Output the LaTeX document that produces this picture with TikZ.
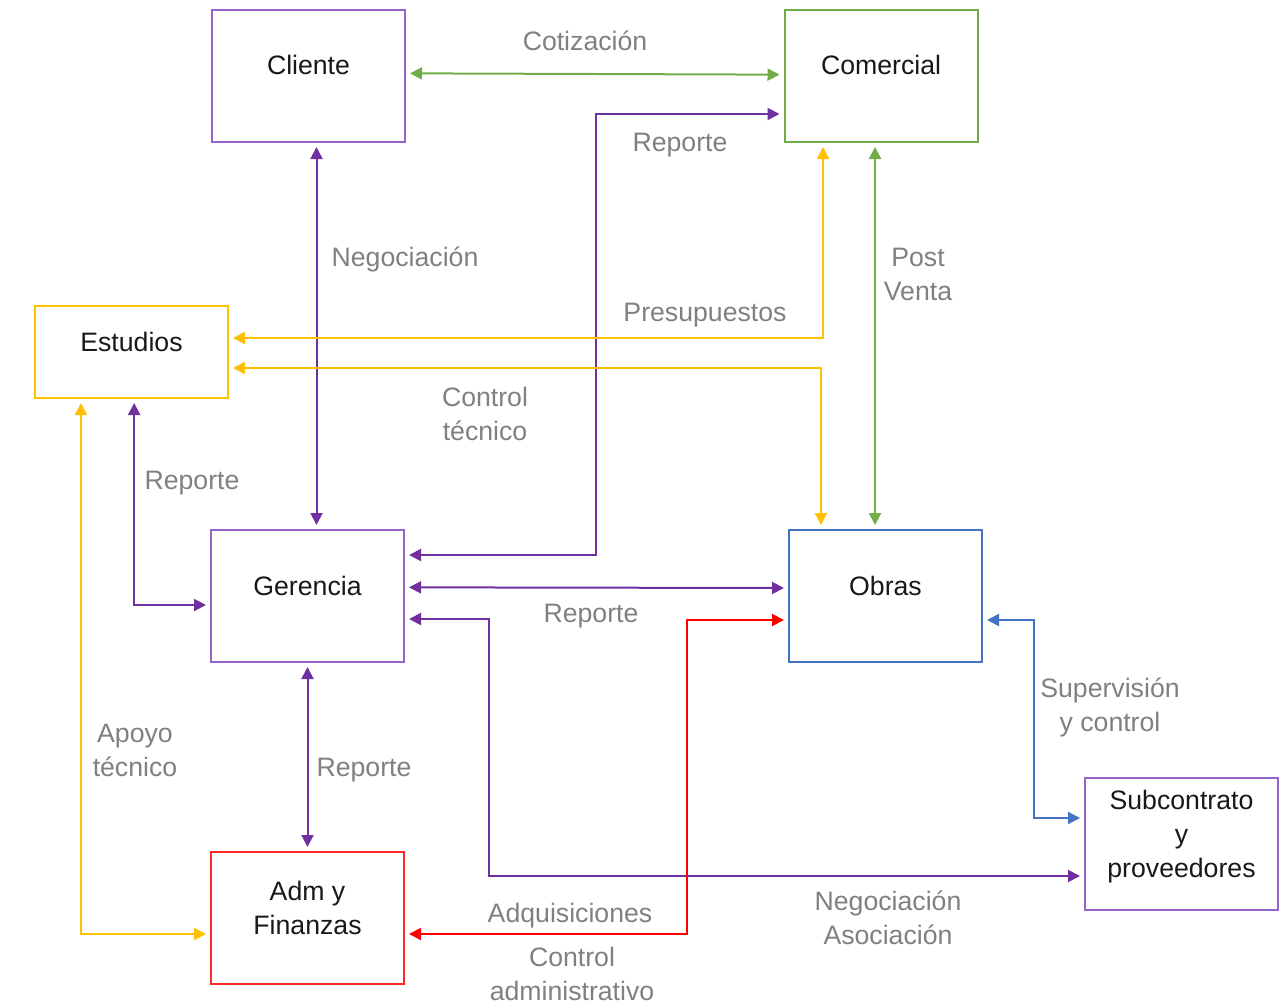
\documentclass[tikz,border=0pt]{standalone}
\usepackage{fontspec}
\setmainfont{Liberation Sans}
\usepackage{tikz}
\usetikzlibrary{arrows.meta, positioning, calc}
\definecolor{flowpurple}{HTML}{7030A0}
\definecolor{boxpurple}{HTML}{9563C9}
\definecolor{flowgreen}{HTML}{70AD47}
\definecolor{flowyellow}{HTML}{FFC000}
\definecolor{flowblue}{HTML}{4472C4}
\definecolor{flowred}{HTML}{FF0000}
\definecolor{labelgray}{HTML}{808080}
\tikzset{
	box/.style={draw, line width=1.5pt, fill=white, minimum width=144.75pt, minimum height=99pt,
		align=center, text depth=16pt, font=\fontsize{20}{25.5}\selectfont, text=black!90},
	arr/.style={line width=1.5pt, {Triangle[length=9pt,width=9pt]}-{Triangle[length=9pt,width=9pt]},
		shorten <=3pt, shorten >=3pt},
	lbl/.style={text=labelgray, align=center, font=\fontsize{20}{25.5}\selectfont}
}

\begin{document}
\begin{tikzpicture}[x=0.75pt, y=-0.75pt]
	\useasboundingbox (0,0) rectangle (1280,1003);
	\node[box, draw=boxpurple] (cliente) at (308.5,76) {Cliente};
	\node[box, draw=flowgreen] (comercial) at (881,76) {Comercial};
	\node[box, draw=flowyellow, minimum height=69pt] (estudios) at (131.5,352) {Estudios};
	\node[box, draw=boxpurple] (gerencia) at (307.5,596) {Gerencia};
	\node[box, draw=flowblue] (obras) at (885.5,596) {Obras};
	\node[box, draw=flowred!85] (adm) at (307.5,918) {Adm y\\Finanzas};
	\node[box, draw=boxpurple] (sub) at (1181.5,844) {Subcontrato\\y\\proveedores};

	\draw[arr, flowgreen] ([yshift=2pt]cliente.east) -- ([yshift=1pt]comercial.west);
	\draw[arr, flowpurple] ([xshift=6pt]cliente.south) coordinate (neg) -- (neg |- gerencia.north);
	\draw[arr, flowpurple] ([yshift=30.75pt]gerencia.east) -| (596,114) -- (596,114 -| comercial.west);
	\draw[arr, flowyellow] ([xshift=-43.5pt]comercial.south) |- ([yshift=10.5pt]estudios.east);
	\draw[arr, flowyellow] ([yshift=-12pt]estudios.east) -| ([xshift=-48.4pt]obras.north);
	\draw[arr, flowgreen] ([xshift=-4.5pt]comercial.south) coordinate (pv) -- (pv |- obras.north);
	\draw[arr, flowpurple] ([xshift=2pt]estudios.south) |- ([yshift=-6.75pt]gerencia.west);
	\draw[arr, flowpurple] ([yshift=6.5pt]gerencia.east) -- ([yshift=6pt]obras.west);
	\draw[arr, flowpurple] ([yshift=-17.25pt]gerencia.east) -| (489,876) -- (489,876 -| sub.west);
	\draw[arr, flowred] ([yshift=-12pt]adm.east) -| (687,620) -- (687,620 -| obras.west);
	\draw[arr, flowblue] ([yshift=-18pt]obras.east) -| (1034,818) -- (1034,818 -| sub.west);
	\draw[arr, flowpurple] (gerencia.south) -- (adm.north);
	\draw[arr, flowyellow] ([xshift=-37.9pt]estudios.south) |- ([yshift=-12pt]adm.west);

	\node[lbl] (lcot) at (585,41) {Cotización};
	\node[lbl] (lrepcom) at (680,145) {Reporte};
	\node[lbl] (lneg) at (405,259) {Negociación};
	\node[lbl] (lpost) at (918,274) {Post\\Venta};
	\node[lbl] (lpres) at (705,315) {Presupuestos};
	\node[lbl] (lctec) at (485,414) {Control\\técnico};
	\node[lbl] (lrepest) at (192,483) {Reporte};
	\node[lbl] (lrepobr) at (591,616) {Reporte};
	\node[lbl] (lsup) at (1110,707) {Supervisión\\y control};
	\node[lbl] (lapoyo) at (135,750) {Apoyo\\técnico};
	\node[lbl] (lrepadm) at (364,770) {Reporte};
	\node[lbl] (lnegas) at (888,918) {Negociación\\Asociación};
	\node[lbl] (ladq) at (570,916) {Adquisiciones};
	\node[lbl] (lcadm) at (572,974) {Control\\administrativo};
\end{tikzpicture}
\end{document}
